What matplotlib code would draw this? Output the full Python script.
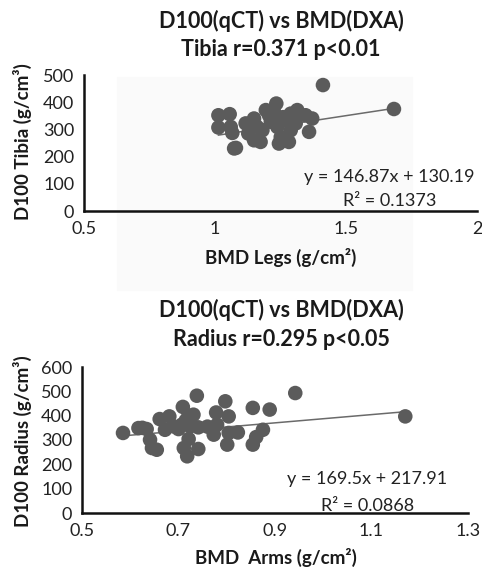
import numpy as np
import matplotlib
matplotlib.use("Agg")
import matplotlib.pyplot as plt
from matplotlib.patches import Rectangle

plt.rcParams['font.family'] = ['Lato', 'DejaVu Sans']

# Tibia panel: BMD legs (g/cm2) vs D100 tibia (g/cm3)
legs_x = [1.013, 1.056, 1.013, 1.060, 1.066, 1.073, 1.117, 1.149, 1.127, 1.149,
          1.174, 1.181, 1.194, 1.234, 1.213, 1.238, 1.251, 1.244, 1.282, 1.289,
          1.314, 1.346, 1.371, 1.359, 1.289, 1.308, 1.270, 1.206, 1.080, 1.225,
          1.260, 1.160, 1.412, 1.683]
legs_y = [352, 356, 307, 309, 287, 230, 322, 340, 285, 260,
          254, 297, 371, 395, 328, 309, 272, 248, 254, 358,
          371, 352, 340, 291, 297, 322, 334, 352, 232, 365,
          345, 310, 463, 375]
tibia_fit = (146.87, 130.19)
tibia_r2 = "0.1373"

# Radius panel: BMD arms (g/cm2) vs D100 radius (g/cm3)
arms_x = [0.585, 0.617, 0.634, 0.641, 0.645, 0.655, 0.661, 0.681, 0.672, 0.690,
          0.709, 0.738, 0.721, 0.731, 0.707, 0.724, 0.741, 0.721, 0.711, 0.718,
          0.741, 0.797, 0.778, 0.804, 0.780, 0.773, 0.804, 0.823, 0.801, 0.854,
          0.889, 0.875, 0.861, 0.854, 0.942, 0.625, 0.700, 0.760, 0.715, 1.170]
arms_y = [329, 349, 345, 301, 267, 260, 386, 397, 342, 356,
          436, 482, 400, 404, 363, 356, 352, 304, 267, 233,
          263, 459, 413, 397, 363, 322, 329, 331, 281, 432,
          425, 342, 312, 281, 493, 350, 345, 355, 380, 397]
radius_fit = (169.5, 217.91)
radius_r2 = "0.0868"

W, H = 482, 573
fig = plt.figure(figsize=(W / 100, H / 100), dpi=100)

def fx(px):
    return px / W

def fy(py):
    return 1 - py / H

# faint grey scan patch behind the upper plot
fig.patches.append(Rectangle((fx(117), fy(290)), fx(295), (290 - 77) / H,
                             transform=fig.transFigure, color='#fafafa', zorder=-5))

def panel(rect, xs, ys, fit, r2, xlim, xticks, ylim, yticks, eq_pos, r2_pos):
    ax = fig.add_axes(rect)
    ax.patch.set_alpha(0)
    ax.scatter(xs, ys, s=110, color='#5b5b5b', edgecolors='none', zorder=3)
    lx = np.array([min(xs), max(xs)])
    ax.plot(lx, fit[0] * lx + fit[1], color='#6a6a6a', lw=1.1, zorder=2)
    ax.set_xlim(*xlim)
    ax.set_ylim(*ylim)
    ax.set_xticks(xticks)
    ax.set_yticks(yticks)
    ax.set_xticklabels([('%g' % t) for t in xticks])
    ax.tick_params(length=0, labelsize=13, colors='#222222', pad=7)
    for s in ['top', 'right']:
        ax.spines[s].set_visible(False)
    for s in ['left', 'bottom']:
        ax.spines[s].set_linewidth(1.8)
        ax.spines[s].set_color('#111111')
    sign = '+' if fit[1] >= 0 else '-'
    fig.text(fx(eq_pos[0]), fy(eq_pos[1]), 'y = %gx %s %g' % (fit[0], sign, abs(fit[1])),
             ha='center', va='center', fontsize=13, color='#222222')
    fig.text(fx(r2_pos[0]), fy(r2_pos[1]), 'R² = ' + r2,
             ha='center', va='center', fontsize=13, color='#222222')
    return ax

panel([fx(84), fy(211), fx(393), 136 / H], legs_x, legs_y, tibia_fit, tibia_r2,
      (0.5, 2), [0.5, 1, 1.5, 2], (0, 500), [0, 100, 200, 300, 400, 500],
      (389, 177), (390, 201))
panel([fx(82), fy(513), fx(386), 146 / H], arms_x, arms_y, radius_fit, radius_r2,
      (0.5, 1.3), [0.5, 0.7, 0.9, 1.1, 1.3], (0, 600), [0, 100, 200, 300, 400, 500, 600],
      (367, 479), (368, 506))

bold = dict(ha='center', va='center', fontweight='bold', color='#1a1a1a')
fig.text(fx(281), fy(21), 'D100(qCT) vs BMD(DXA)', fontsize=15.5, **bold)
fig.text(fx(281), fy(50), 'Tibia r=0.371 p<0.01', fontsize=15.5, **bold)
fig.text(fx(281), fy(257), 'BMD Legs (g/cm²)', fontsize=13.5, **bold)
fig.text(fx(22), fy(142), 'D100 Tibia (g/cm³)', fontsize=13.5, rotation=90, **bold)

fig.text(fx(281), fy(310), 'D100(qCT) vs BMD(DXA)', fontsize=15.5, **bold)
fig.text(fx(281), fy(340), 'Radius r=0.295 p<0.05', fontsize=15.5, **bold)
fig.text(fx(276), fy(557), 'BMD  Arms (g/cm²)', fontsize=13.5, **bold)
fig.text(fx(22), fy(441), 'D100 Radius (g/cm³)', fontsize=13.5, rotation=90, **bold)

fig.savefig('out.png', dpi=100, facecolor='white')
